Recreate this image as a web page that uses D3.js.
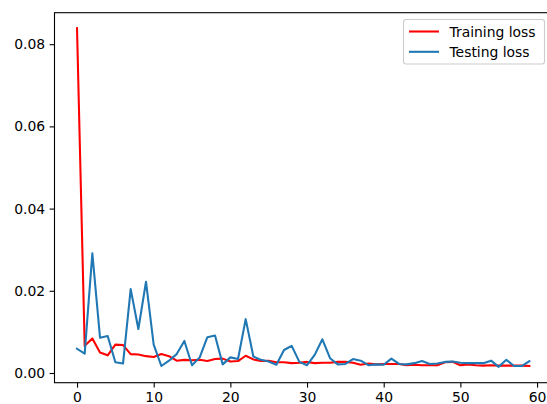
<!DOCTYPE html>
<html>
<head>
<meta charset="utf-8">
<script src="https://cdn.jsdelivr.net/npm/d3@7"></script>
<style>
  html, body { margin: 0; padding: 0; background: #fff; }
  svg { display: block; font-family: "DejaVu Sans", sans-serif; }
</style>
</head>
<body>
<svg id="chart" width="547" height="404"></svg>
<script>
// Per-epoch losses
const epochs = d3.range(60);
const trainingLoss = [
  0.0839, 0.0066, 0.0084, 0.0050, 0.0043, 0.0069, 0.0068, 0.0046, 0.0045, 0.0041,
  0.0039, 0.0046, 0.0041, 0.0030, 0.0032, 0.0031, 0.0032, 0.0029, 0.0034, 0.0035,
  0.0028, 0.0029, 0.0042, 0.0033, 0.0029, 0.0030, 0.0026, 0.0026, 0.0024, 0.0025,
  0.0027, 0.0024, 0.0025, 0.0025, 0.0027, 0.0027, 0.0025, 0.0020, 0.0023, 0.0021,
  0.0022, 0.0022, 0.0022, 0.0019, 0.0020, 0.0019, 0.0019, 0.0019, 0.0026, 0.0027,
  0.0019, 0.0021, 0.0019, 0.0018, 0.0019, 0.0018, 0.0018, 0.0018, 0.0018, 0.0017
];
const testingLoss = [
  0.0059, 0.0047, 0.0291, 0.0086, 0.0090, 0.0026, 0.0023, 0.0204, 0.0107, 0.0222,
  0.0069, 0.0017, 0.0030, 0.0046, 0.0078, 0.0019, 0.0038, 0.0087, 0.0091, 0.0021,
  0.0038, 0.0034, 0.0131, 0.0040, 0.0032, 0.0028, 0.0020, 0.0056, 0.0066, 0.0027,
  0.0019, 0.0044, 0.0082, 0.0036, 0.0021, 0.0022, 0.0034, 0.0030, 0.0019, 0.0021,
  0.0020, 0.0035, 0.0022, 0.0021, 0.0024, 0.0029, 0.0022, 0.0023, 0.0027, 0.0028,
  0.0025, 0.0024, 0.0024, 0.0024, 0.0030, 0.0015, 0.0032, 0.0017, 0.0017, 0.0029
];
const xTicks = [0, 10, 20, 30, 40, 50, 60];
const yTicks = [0, 0.02, 0.04, 0.06, 0.08];
const seriesNames = ["Training loss", "Testing loss"];
const seriesColors = ["#ff0000", "#1f77b4"];

const svg = d3.select("#chart");
const plot = { left: 54.5, right: 551, top: 12.7, bottom: 382.7 };

const x = d3.scaleLinear().domain([-2.95, 61.95]).range([54.4, 552]);
const y = d3.scaleLinear().domain([-0.00236, 0.08766]).range([plot.bottom, plot.top]);

svg.append("defs").append("clipPath").attr("id", "plotclip")
  .append("rect")
  .attr("x", plot.left).attr("y", plot.top)
  .attr("width", plot.right - plot.left).attr("height", plot.bottom - plot.top);

const line = d3.line().x((d, i) => x(epochs[i])).y(d => y(d));

const series = [trainingLoss, testingLoss];
const g = svg.append("g").attr("clip-path", "url(#plotclip)");
series.forEach((vals, k) => {
  g.append("path")
    .datum(vals)
    .attr("d", line)
    .attr("fill", "none")
    .attr("stroke", seriesColors[k])
    .attr("stroke-width", 2.08)
    .attr("stroke-linejoin", "round")
    .attr("stroke-linecap", "square");
});

// Axes
const xAxis = d3.axisBottom(x).tickValues(xTicks).tickFormat(d3.format("d"))
  .tickSize(4.9).tickPadding(4.5);
const yAxis = d3.axisLeft(y).tickValues(yTicks).tickFormat(d3.format(".2f"))
  .tickSize(4.9).tickPadding(4.5);

const gx = svg.append("g").attr("transform", `translate(0,${plot.bottom})`).call(xAxis);
const gy = svg.append("g").attr("transform", `translate(${plot.left},0)`).call(yAxis);
[gx, gy].forEach(a => {
  a.select(".domain").remove();
  a.selectAll(".tick line").attr("stroke", "#000").attr("stroke-width", 1.1);
  a.selectAll(".tick text").attr("fill", "#000")
    .style("font-family", "DejaVu Sans").style("font-size", "13.9px");
});

// Frame
svg.append("rect")
  .attr("x", plot.left).attr("y", plot.top)
  .attr("width", plot.right - plot.left).attr("height", plot.bottom - plot.top)
  .attr("fill", "none").attr("stroke", "#000").attr("stroke-width", 1.1);

// Legend
const lg = svg.append("g");
lg.append("rect")
  .attr("x", 403.5).attr("y", 19.5).attr("width", 141).attr("height", 44.5)
  .attr("rx", 2.5).attr("fill", "#fff").attr("fill-opacity", 0.8)
  .attr("stroke", "#cccccc").attr("stroke-width", 1.1);
seriesNames.forEach((name, k) => {
  const yy = 31.5 + k * 20.3;
  lg.append("line").attr("x1", 409).attr("x2", 439).attr("y1", yy).attr("y2", yy)
    .attr("stroke", seriesColors[k]).attr("stroke-width", 2.08);
  lg.append("text").attr("x", 449.5).attr("y", yy).attr("dy", "0.36em")
    .style("font-size", "13.9px").attr("fill", "#000").text(name);
});
</script>
</body>
</html>
